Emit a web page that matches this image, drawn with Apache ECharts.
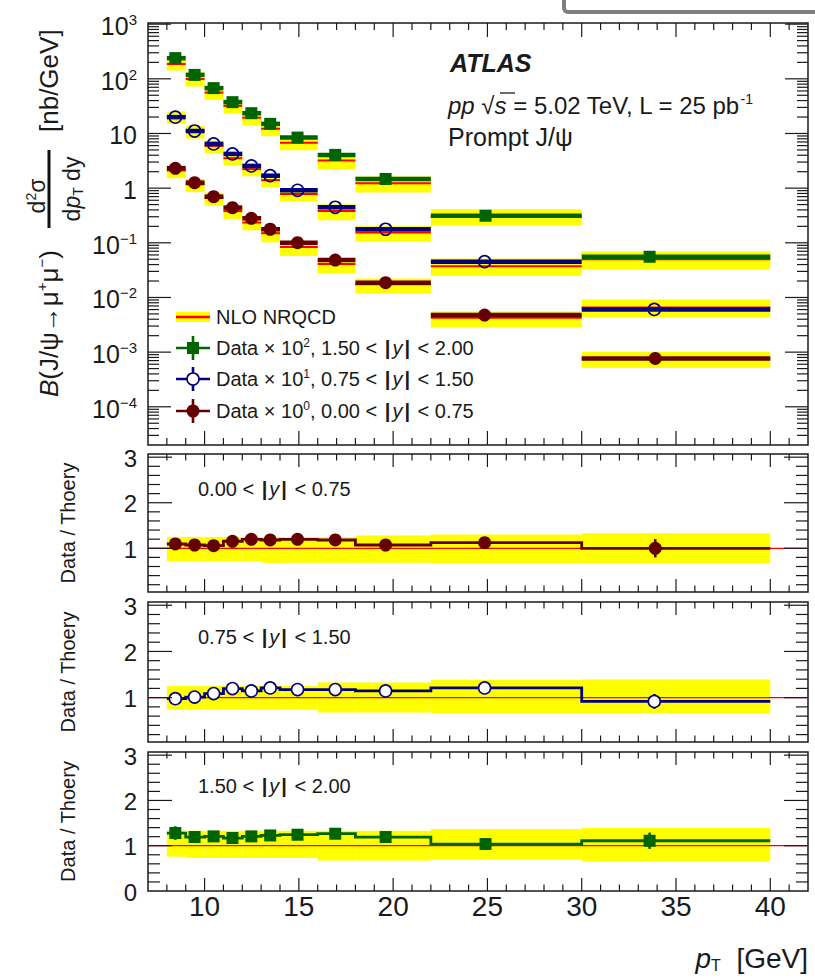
<!DOCTYPE html>
<html>
<head>
<meta charset="utf-8">
<script src="https://cdn.jsdelivr.net/npm/echarts@6.0.0/dist/echarts.min.js"></script>
<style>
html,body{margin:0;padding:0;background:#ffffff;}
#c{width:815px;height:980px;}
</style>
</head>
<body>
<div id="c"></div>
<script>
// ------------------------------------------------------------------ data
// pT bins [GeV]
const binLo = [8, 9, 10, 11, 12, 13, 14, 16, 18, 22, 30];
const binHi = [9, 10, 11, 12, 13, 14, 16, 18, 22, 30, 40];
// marker positions (mean pT of the bin)
const ptMeanY0 = [8.45, 9.47, 10.48, 11.48, 12.48, 13.48, 14.93, 16.93, 19.6, 24.85, 33.9];
const ptMeanY1 = [8.45, 9.47, 10.48, 11.48, 12.48, 13.48, 14.93, 16.93, 19.6, 24.85, 33.85];
const ptMeanY2 = [8.45, 9.47, 10.48, 11.48, 12.48, 13.48, 14.93, 16.93, 19.6, 24.9, 33.6];

// 0.00 < |y| < 0.75, plotted x 10^0  [nb/GeV]
const dataY0     = [2.31, 1.26, 0.698, 0.44, 0.281, 0.177, 0.1005, 0.0484, 0.0186, 0.00476, 0.000766];
const theoryY0   = [2.11, 1.175, 0.66, 0.381, 0.235, 0.150, 0.084, 0.041, 0.0174, 0.00424, 0.000766];
const theoryY0Lo = [1.52, 0.846, 0.475, 0.274, 0.169, 0.102, 0.0571, 0.0279, 0.0118, 0.00284, 0.000513];
const theoryY0Hi = [2.64, 1.47, 0.825, 0.476, 0.294, 0.1875, 0.105, 0.0513, 0.0223, 0.00551, 0.00102];
const ratioY0    = [1.094, 1.072, 1.057, 1.154, 1.197, 1.182, 1.197, 1.182, 1.072, 1.123, 1.0];
const ratioY0Err = [0.12, 0.05, 0.05, 0.05, 0.05, 0.05, 0.05, 0.05, 0.05, 0.08, 0.2];
const bandY0Lo   = [0.72, 0.72, 0.72, 0.72, 0.72, 0.68, 0.68, 0.68, 0.68, 0.67, 0.67];
const bandY0Hi   = [1.25, 1.25, 1.25, 1.25, 1.25, 1.25, 1.25, 1.25, 1.28, 1.30, 1.33];

// 0.75 < |y| < 1.50, plotted x 10^1
const dataY1     = [19.9, 11.1, 6.44, 4.23, 2.55, 1.69, 0.914, 0.447, 0.177, 0.0451, 0.00605];
const theoryY1   = [20.35, 10.96, 5.92, 3.53, 2.23, 1.40, 0.778, 0.380, 0.1546, 0.0372, 0.00658];
const theoryY1Lo = [15.1, 8.1, 4.38, 2.61, 1.65, 1.04, 0.576, 0.258, 0.105, 0.0246, 0.00434];
const theoryY1Hi = [25.4, 13.7, 7.4, 4.41, 2.79, 1.75, 0.97, 0.505, 0.206, 0.0514, 0.00915];
const ratioY1    = [0.978, 1.013, 1.088, 1.197, 1.145, 1.211, 1.175, 1.175, 1.145, 1.211, 0.919];
const ratioY1Err = [0.06, 0.05, 0.05, 0.05, 0.05, 0.05, 0.05, 0.05, 0.05, 0.08, 0.16];
const bandY1Lo   = [0.74, 0.74, 0.74, 0.74, 0.74, 0.74, 0.74, 0.68, 0.68, 0.66, 0.66];
const bandY1Hi   = [1.25, 1.25, 1.25, 1.25, 1.25, 1.25, 1.25, 1.33, 1.33, 1.38, 1.39];

// 1.50 < |y| < 2.00, plotted x 10^2
const dataY2     = [239, 118, 67.6, 37.4, 23.5, 15.0, 8.41, 4.06, 1.47, 0.313, 0.0556];
const theoryY2   = [186.7, 99.0, 56.05, 31.97, 19.49, 12.22, 6.77, 3.21, 1.233, 0.3018, 0.0501];
const theoryY2Lo = [141.9, 72.3, 40.9, 23.3, 14.2, 8.92, 4.94, 2.17, 0.832, 0.208, 0.0326];
const theoryY2Hi = [248, 131.7, 74.5, 42.5, 25.9, 16.25, 9.0, 4.27, 1.64, 0.413, 0.0696];
const ratioY2    = [1.28, 1.192, 1.206, 1.17, 1.206, 1.227, 1.243, 1.265, 1.192, 1.037, 1.11];
const ratioY2Err = [0.15, 0.06, 0.06, 0.06, 0.06, 0.06, 0.06, 0.06, 0.06, 0.1, 0.18];
const bandY2Lo   = [0.76, 0.73, 0.73, 0.73, 0.73, 0.73, 0.73, 0.675, 0.675, 0.69, 0.65];
const bandY2Hi   = [1.33, 1.33, 1.33, 1.33, 1.33, 1.33, 1.33, 1.33, 1.33, 1.37, 1.39];

// ticks and tick labels
const xMajorTicks = [10, 15, 20, 25, 30, 35, 40];
const xTickLabels = ['10', '15', '20', '25', '30', '35', '40'];
const xMinorTicks = [8, 9, 11, 12, 13, 14, 16, 17, 18, 19, 21, 22, 23, 24, 26, 27, 28, 29, 31, 32, 33, 34, 36, 37, 38, 39, 41];
const topTickExponents = [-4, -3, -2, -1, 0, 1, 2, 3];
const topMinorMultipliers = [2, 3, 4, 5, 6, 7, 8, 9];
const ratioMajorTicks = [0, 1, 2, 3];
const ratioMinorTicks = [0.2, 0.4, 0.6, 0.8, 1.2, 1.4, 1.6, 1.8, 2.2, 2.4, 2.6, 2.8];
const ratioTickLabels = [['1', '2', '3'], ['1', '2', '3'], ['0', '1', '2', '3']];
const ratioReference = 1;
const rapidityLabels = ['0.00', '0.75', '1.50', '2.00'];

// ------------------------------------------------------------------ style
const FONT = '"Liberation Sans", Arial, Helvetica, sans-serif';
const INK = '#1a1a1a';
const COL = ['#660000', '#000080', '#006400'];
const YELLOW = '#ffff00';
const RED = '#ff0000';
const X_MIN = 7, X_MAX = 42;
const TOP_MIN = 2e-5, TOP_MAX = 1050;
const R_MIN = [0.04, 0.04, 0];
const R_MAX = 3.07;

const chart = echarts.init(document.getElementById('c'), null, {renderer: 'svg', width: 815, height: 980});

const gridBox = [
  {left: 148, top: 23, width: 660, height: 422},
  {left: 148, top: 454, width: 660, height: 138},
  {left: 148, top: 602, width: 660, height: 140},
  {left: 148, top: 752, width: 660, height: 139}
];
const grids = gridBox.map(g => Object.assign({
  show: true, borderColor: INK, borderWidth: 1.5, backgroundColor: 'transparent',
  containLabel: false, outerBoundsMode: 'none'
}, g));

const hiddenAxisParts = {
  axisLine: {show: false}, axisTick: {show: false}, axisLabel: {show: false}, splitLine: {show: false}
};
const xAxes = grids.map((g, i) => Object.assign({type: 'value', gridIndex: i, min: X_MIN, max: X_MAX}, hiddenAxisParts));
const yAxes = [
  Object.assign({type: 'log', logBase: 10, gridIndex: 0, min: TOP_MIN, max: TOP_MAX}, hiddenAxisParts)
];
for (let k = 0; k < 3; k++) {
  yAxes.push(Object.assign({
    type: 'value', gridIndex: k + 1, min: R_MIN[k], max: R_MAX,
    name: 'Data / Thoery', nameLocation: 'middle', nameRotate: 90, nameGap: 70,
    nameTextStyle: {fontSize: 20, fontFamily: FONT, color: INK}
  }, hiddenAxisParts));
}

// --------------------------------------------------------------- helpers
function markerShape(kind, cx, cy, color, openFill) {
  if (kind === 'square') {
    return {type: 'rect', shape: {x: cx - 6, y: cy - 6, width: 12, height: 12}, style: {fill: color}};
  }
  if (kind === 'open') {
    return {type: 'circle', shape: {cx: cx, cy: cy, r: 6}, style: {fill: openFill, stroke: color, lineWidth: 1.6}};
  }
  return {type: 'circle', shape: {cx: cx, cy: cy, r: 6.5}, style: {fill: color}};
}

// upper panel: theory band, theory line, data bin line, marker
function topSeries(pt, data, th, thLo, thHi, color, kind) {
  const rows = binLo.map((lo, i) => [lo, binHi[i], pt[i], data[i], th[i], thLo[i], thHi[i]]);
  return {
    type: 'custom', xAxisIndex: 0, yAxisIndex: 0, clip: false, silent: true, z: 3,
    encode: {x: [0, 1], y: [3, 5, 6]},
    data: rows,
    renderItem: function (params, api) {
      const lo = api.value(0), hi = api.value(1), p = api.value(2), v = api.value(3);
      const t = api.value(4), tl = api.value(5), thh = api.value(6);
      const a = api.coord([lo, thh]), b = api.coord([hi, tl]);
      const t0 = api.coord([lo, t]), t1 = api.coord([hi, t]);
      const d0 = api.coord([lo, v]), d1 = api.coord([hi, v]);
      const m = api.coord([p, v]);
      return {type: 'group', children: [
        {type: 'rect', shape: {x: a[0], y: a[1], width: b[0] - a[0], height: b[1] - a[1]}, style: {fill: YELLOW}},
        {type: 'line', shape: {x1: t0[0], y1: t0[1], x2: t1[0], y2: t1[1]}, style: {stroke: RED, lineWidth: 2}},
        {type: 'line', shape: {x1: d0[0], y1: d0[1], x2: d1[0], y2: d1[1]}, style: {stroke: color, lineWidth: 4.5}},
        markerShape(kind, m[0], m[1], color, 'none')
      ]};
    }
  };
}

function ratioSeries(panel, pt, ratio, err, bLo, bHi, color, kind) {
  const gi = panel + 1;
  const out = [];
  // theory uncertainty band
  out.push({
    type: 'custom', xAxisIndex: gi, yAxisIndex: gi, clip: false, silent: true, z: 2,
    encode: {x: [0, 1], y: [2, 3]},
    data: binLo.map((lo, i) => [lo, binHi[i], bLo[i], bHi[i]]),
    renderItem: function (params, api) {
      const a = api.coord([api.value(0), api.value(3)]), b = api.coord([api.value(1), api.value(2)]);
      return {type: 'rect', shape: {x: a[0], y: a[1], width: b[0] - a[0], height: b[1] - a[1]}, style: {fill: YELLOW}};
    }
  });
  // reference line at 1
  out.push({
    type: 'custom', xAxisIndex: gi, yAxisIndex: gi, clip: false, silent: true, z: 3,
    data: [[X_MIN, ratioReference, X_MAX]],
    renderItem: function (params, api) {
      const a = api.coord([api.value(0), api.value(1)]), b = api.coord([api.value(2), api.value(1)]);
      return {type: 'line', shape: {x1: a[0], y1: a[1], x2: b[0], y2: b[1]}, style: {stroke: RED, lineWidth: 1.3}};
    }
  });
  // stepped data histogram
  out.push({
    type: 'custom', xAxisIndex: gi, yAxisIndex: gi, clip: false, silent: true, z: 4,
    data: [[binLo[0], ratio[0]]],
    renderItem: function (params, api) {
      const pts = [];
      for (let i = 0; i < binLo.length; i++) {
        pts.push(api.coord([binLo[i], ratio[i]]));
        pts.push(api.coord([binHi[i], ratio[i]]));
      }
      return {type: 'polyline', shape: {points: pts}, style: {stroke: color, lineWidth: 2.8, fill: 'none'}};
    }
  });
  // markers with error bars
  out.push({
    type: 'custom', xAxisIndex: gi, yAxisIndex: gi, clip: false, silent: true, z: 5,
    encode: {x: 0, y: 1},
    data: pt.map((p, i) => [p, ratio[i], err[i]]),
    renderItem: function (params, api) {
      const p = api.value(0), r = api.value(1), e = api.value(2);
      const top = api.coord([p, r + e]), bot = api.coord([p, r - e]), m = api.coord([p, r]);
      return {type: 'group', children: [
        {type: 'line', shape: {x1: top[0], y1: top[1], x2: bot[0], y2: bot[1]}, style: {stroke: color, lineWidth: 2.6}},
        markerShape(kind, m[0], m[1], color, '#ffffff')
      ]};
    }
  });
  return out;
}

function supText(base, exp, size) {
  return {
    text: '{b|' + base + '}{s|' + exp + '}',
    rich: {
      b: {fontSize: size, fontFamily: FONT, fill: INK, lineHeight: size + 3},
      s: {fontSize: Math.round(size * 0.6), fontFamily: FONT, fill: INK, verticalAlign: 'top', lineHeight: Math.round(size * 0.6)}
    }
  };
}

// frame ticks (ROOT style, inside on all four sides) and tick labels
function tickSeries(gi) {
  const isTop = gi === 0;
  const yMin = isTop ? TOP_MIN : R_MIN[gi - 1];
  const yMax = isTop ? TOP_MAX : R_MAX;
  return {
    type: 'custom', xAxisIndex: gi, yAxisIndex: gi, clip: false, silent: true, z: 10,
    data: [[X_MIN, isTop ? 1 : ratioReference]],
    renderItem: function (params, api) {
      const ch = [];
      const bl = api.coord([X_MIN, yMin]), tr = api.coord([X_MAX, yMax]);
      const L = bl[0], R = tr[0], B = bl[1], T = tr[1];
      const seg = (x1, y1, x2, y2) => ch.push({type: 'line', shape: {x1, y1, x2, y2}, style: {stroke: INK, lineWidth: 1.2}});
      const xMaj = isTop ? 14 : 13, xMin = isTop ? 7 : 6.5;
      const yMaj = isTop ? 23 : 24, yMinL = isTop ? 11 : 12;
      xMajorTicks.forEach(v => { const x = api.coord([v, yMin])[0]; seg(x, B, x, B - xMaj); seg(x, T, x, T + xMaj); });
      xMinorTicks.forEach(v => { const x = api.coord([v, yMin])[0]; seg(x, B, x, B - xMin); seg(x, T, x, T + xMin); });
      if (isTop) {
        for (let e = -5; e <= 3; e++) {
          const dec = Math.pow(10, e);
          if (dec > yMin && dec < yMax) { const y = api.coord([X_MIN, dec])[1]; seg(L, y, L + yMaj, y); seg(R, y, R - yMaj, y); }
          topMinorMultipliers.forEach(mm => {
            const v = mm * dec;
            if (v > yMin && v < yMax) { const y = api.coord([X_MIN, v])[1]; seg(L, y, L + yMinL, y); seg(R, y, R - yMinL, y); }
          });
        }
        topTickExponents.forEach(e => {
          const y = api.coord([X_MIN, Math.pow(10, e)])[1] + 2;
          let st;
          if (e === 0) st = {text: '1', fontSize: 25, fontFamily: FONT, fill: INK};
          else if (e === 1) st = {text: '10', fontSize: 25, fontFamily: FONT, fill: INK};
          else st = supText('10', e < 0 ? '\u2212' + (-e) : String(e), 25);
          st.align = 'right'; st.verticalAlign = 'middle';
          ch.push({type: 'text', x: L - 11, y: y, style: st});
        });
      } else {
        ratioMajorTicks.forEach(v => {
          if (v > yMin && v < yMax) { const y = api.coord([X_MIN, v])[1]; seg(L, y, L + yMaj, y); seg(R, y, R - yMaj, y); }
        });
        ratioMinorTicks.forEach(v => {
          if (v > yMin && v < yMax) { const y = api.coord([X_MIN, v])[1]; seg(L, y, L + yMinL, y); seg(R, y, R - yMinL, y); }
        });
        ratioTickLabels[gi - 1].forEach(s => {
          const y = api.coord([X_MIN, Number(s)])[1] + 1;
          ch.push({type: 'text', x: L - 11, y: y, style: {text: s, fontSize: 24, fontFamily: FONT, fill: INK, align: 'right', verticalAlign: 'middle'}});
        });
        if (gi === 3) {
          xMajorTicks.forEach((v, i) => {
            const x = api.coord([v, yMin])[0];
            ch.push({type: 'text', x: x, y: B + 15, style: {text: xTickLabels[i], fontSize: 28, fontFamily: FONT, fill: INK, align: 'center', verticalAlign: 'middle'}});
          });
        }
      }
      return {type: 'group', children: ch};
    }
  };
}

// ---------------------------------------------------------------- series
const series = [];
series.push(topSeries(ptMeanY2, dataY2, theoryY2, theoryY2Lo, theoryY2Hi, COL[2], 'square'));
series.push(topSeries(ptMeanY1, dataY1, theoryY1, theoryY1Lo, theoryY1Hi, COL[1], 'open'));
series.push(topSeries(ptMeanY0, dataY0, theoryY0, theoryY0Lo, theoryY0Hi, COL[0], 'filled'));
ratioSeries(0, ptMeanY0, ratioY0, ratioY0Err, bandY0Lo, bandY0Hi, COL[0], 'filled').forEach(s => series.push(s));
ratioSeries(1, ptMeanY1, ratioY1, ratioY1Err, bandY1Lo, bandY1Hi, COL[1], 'open').forEach(s => series.push(s));
ratioSeries(2, ptMeanY2, ratioY2, ratioY2Err, bandY2Lo, bandY2Hi, COL[2], 'square').forEach(s => series.push(s));
for (let g = 0; g < 4; g++) series.push(tickSeries(g));

// ------------------------------------------------------- text & legend
const T = (size, extra) => Object.assign({fontSize: size, fontFamily: FONT, fill: INK}, extra || {});
function yRangeRich(size) {
  return {
    b: T(size, {fontWeight: 'bold', padding: [0, 2, 0, 2]}),
    i: T(size, {fontStyle: 'italic'}),
    s: T(Math.round(size * 0.62), {verticalAlign: 'top', lineHeight: Math.round(size * 0.62)}),
    n: T(size, {lineHeight: size + 3})
  };
}
const graphics = [];
// top right box remnant
graphics.push({type: 'rect', id: 'boxEdge', shape: {x: 564, y: -30, width: 300, height: 42, r: 4}, style: {fill: 'none', stroke: '#808080', lineWidth: 4}, z: 20});
// annotations
graphics.push({type: 'text', id: 'atlas', x: 450, y: 63, style: T(25, {text: 'ATLAS', fontWeight: 'bold', fontStyle: 'italic', verticalAlign: 'middle'}), z: 20});
graphics.push({type: 'text', id: 'energy', x: 448, y: 105, style: {
  text: '{i|pp}  {n|\u221A}{i|s}{n| = 5.02 TeV, L = 25 pb}{s|-1}', verticalAlign: 'middle',
  rich: {i: T(24, {fontStyle: 'italic', lineHeight: 27}), n: T(24, {lineHeight: 27}), s: T(14, {verticalAlign: 'top', lineHeight: 14})}
}, z: 20});
graphics.push({type: 'line', id: 'sqrtBar', shape: {x1: 500, y1: 93, x2: 515, y2: 93}, style: {stroke: INK, lineWidth: 1.3}, z: 20});
graphics.push({type: 'text', id: 'prompt', x: 448, y: 137, style: T(25, {text: 'Prompt J/\u03C8', verticalAlign: 'middle'}), z: 20});

// rapidity labels in ratio panels
const panelLabelY = [489, 637, 786];
const panelRanges = [[rapidityLabels[0], rapidityLabels[1]], [rapidityLabels[1], rapidityLabels[2]], [rapidityLabels[2], rapidityLabels[3]]];
panelRanges.forEach((r, k) => {
  graphics.push({type: 'text', id: 'panelLabel' + k, x: 198, y: panelLabelY[k], style: {
    text: '{n|' + r[0] + ' < }{b||}{i|y}{b||}{n| < ' + r[1] + '}', verticalAlign: 'middle', rich: yRangeRich(20)
  }, z: 20});
});

// legend
const legX0 = 176, legX1 = 210, legMid = 193, legText = 216;
graphics.push({type: 'rect', id: 'legBand', shape: {x: legX0, y: 312, width: legX1 - legX0, height: 10}, style: {fill: YELLOW}, z: 20});
graphics.push({type: 'line', id: 'legRed', shape: {x1: legX0, y1: 317, x2: legX1, y2: 317}, style: {stroke: RED, lineWidth: 2.5}, z: 21});
graphics.push({type: 'text', id: 'legNlo', x: legText, y: 317, style: T(20, {text: 'NLO NRQCD', verticalAlign: 'middle'}), z: 21});
const legRows = [
  {y: 348, col: COL[2], kind: 'square', exp: '2', r: panelRanges[2]},
  {y: 379, col: COL[1], kind: 'open', exp: '1', r: panelRanges[1]},
  {y: 411, col: COL[0], kind: 'filled', exp: '0', r: panelRanges[0]}
];
legRows.forEach((row, k) => {
  graphics.push({type: 'line', id: 'legH' + k, shape: {x1: legX0, y1: row.y, x2: legX1, y2: row.y}, style: {stroke: row.col, lineWidth: 2.6}, z: 21});
  graphics.push({type: 'line', id: 'legV' + k, shape: {x1: legMid, y1: row.y - 12, x2: legMid, y2: row.y + 12}, style: {stroke: row.col, lineWidth: 2.6}, z: 21});
  const mk = markerShape(row.kind, legMid, row.y, row.col, '#ffffff');
  mk.z = 22; mk.id = 'legM' + k;
  graphics.push(mk);
  graphics.push({type: 'text', id: 'legT' + k, x: legText, y: row.y, style: {
    text: '{n|Data \u00D7 10}{s|' + row.exp + '}{n|, ' + row.r[0] + ' < }{b||}{i|y}{b||}{n| < ' + row.r[1] + '}',
    verticalAlign: 'middle', rich: yRangeRich(20)
  }, z: 21});
});

// y-axis title of the upper panel (rotated group, local x runs upwards)
const titleRich = {
  n: T(26, {lineHeight: 30}),
  i: T(26, {fontStyle: 'italic', lineHeight: 30}),
  s: T(15, {verticalAlign: 'top', lineHeight: 15})
};
const fracRich = {
  n: T(23, {lineHeight: 26}),
  i: T(23, {fontStyle: 'italic', lineHeight: 26}),
  s: T(14, {verticalAlign: 'top', lineHeight: 14}),
  u: T(14, {verticalAlign: 'bottom', lineHeight: 14})
};
graphics.push({
  type: 'group', id: 'yTitle', x: 50, y: 397, rotation: Math.PI / 2, z: 20,
  children: [
    {type: 'text', id: 'yTitleMain', x: 0, y: -1, style: {text: '{i|B}{n|(J/\u03C8\u2192\u03BC}{s|+}{n|\u03BC}{s|\u2212}{n|)}', align: 'left', verticalAlign: 'middle', rich: titleRich}},
    {type: 'text', id: 'yTitleNum', x: 201, y: -13, style: {text: '{n|d}{s|2}{n|\u03C3}', align: 'center', verticalAlign: 'middle', rich: fracRich}},
    {type: 'rect', id: 'yTitleBar', shape: {x: 169, y: -2.3, width: 78, height: 2.6}, style: {fill: '#111111'}},
    {type: 'text', id: 'yTitleDen', x: 208, y: 22, style: {text: '{n|d}{i|p}{u|T}{n| dy}', align: 'center', verticalAlign: 'middle', rich: fracRich}},
    {type: 'text', id: 'yTitleUnit', x: 265, y: -1, style: {text: '[nb/GeV]', align: 'left', verticalAlign: 'middle', fontSize: 26, fontFamily: FONT, fill: INK}}
  ]
});
// fraction bar (screen coordinates)
graphics.push({type: 'line', id: 'fracBar', shape: {x1: 49, y1: 150, x2: 49, y2: 228}, style: {stroke: '#111111', lineWidth: 2.6}, z: 25});

// x-axis title
graphics.push({type: 'text', id: 'xTitle', x: 808, y: 958, style: {
  text: '{i|p}{u|T}{n|  [GeV]}', align: 'right', verticalAlign: 'middle',
  rich: {i: T(28, {fontStyle: 'italic', lineHeight: 30}), n: T(28, {lineHeight: 30}), u: T(16, {verticalAlign: 'bottom', lineHeight: 16})}
}, z: 20});

chart.setOption({
  animation: false,
  backgroundColor: '#ffffff',
  grid: grids,
  xAxis: xAxes,
  yAxis: yAxes,
  series: series,
  graphic: {elements: graphics}
});
</script>
</body>
</html>
